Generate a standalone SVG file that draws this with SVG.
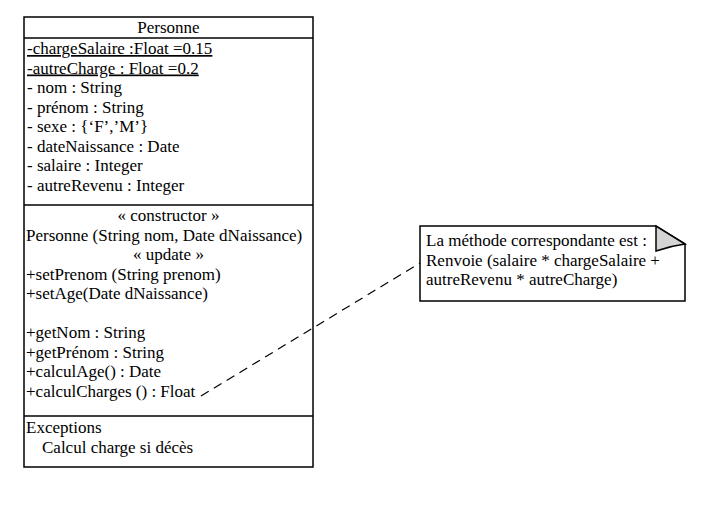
<svg xmlns="http://www.w3.org/2000/svg" width="725" height="508" viewBox="0 0 725 508">
<style>
text{font-family:"Liberation Serif","Times New Roman",serif;font-size:17px;fill:#000}
.c{text-anchor:middle}
.u{text-decoration:underline}
.box{fill:#fff;stroke:#000;stroke-width:1.5}
.ln{stroke:#000;stroke-width:1.5;fill:none}
</style>
<rect width="725" height="508" fill="#fff"/>
<g id="personne">
<rect class="box" x="24" y="17" width="289" height="450"/>
<line class="ln" x1="24" y1="38" x2="313" y2="38"/>
<line class="ln" x1="24" y1="205" x2="313" y2="205"/>
<line class="ln" x1="24" y1="416" x2="313" y2="416"/>
<text class="c" x="168.5" y="33">Personne</text>
<text class="u" x="27" y="54">-chargeSalaire :Float =0.15</text>
<text class="u" x="27" y="73.5">-autreCharge : Float =0.2</text>
<text x="27" y="93">- nom : String</text>
<text x="27" y="112.5">- prénom : String</text>
<text x="27" y="132">- sexe : {‘F’,’M’}</text>
<text x="27" y="151.5">- dateNaissance : Date</text>
<text x="27" y="171">- salaire : Integer</text>
<text x="27" y="190.5">- autreRevenu : Integer</text>
<text class="c" x="168.5" y="221">« constructor »</text>
<text x="26" y="240.5">Personne (String nom, Date dNaissance)</text>
<text class="c" x="168.5" y="260">« update »</text>
<text x="26" y="279.5">+setPrenom (String prenom)</text>
<text x="26" y="299">+setAge(Date dNaissance)</text>
<text x="26" y="338">+getNom : String</text>
<text x="26" y="357.5">+getPrénom : String</text>
<text x="26" y="377">+calculAge() : Date</text>
<text x="26" y="396.5">+calculCharges () : Float</text>
<text x="26" y="433">Exceptions</text>
<text x="42" y="452.5">Calcul charge si décès</text>
</g>
<g id="note">
<path class="box" d="M420,226 H656 L685,244 V301 H420 Z"/>
<path d="M656,226 V251 Q670,246 685,244 Z" fill="#d4d4d4" stroke="#000" stroke-width="1.5"/>
<text x="426" y="246">La méthode correspondante est :</text>
<text x="426" y="265.5">Renvoie (salaire * chargeSalaire +</text>
<text x="426" y="285">autreRevenu * autreCharge)</text>
</g>
<g id="connectors">
<line x1="201" y1="396" x2="420" y2="263" stroke="#000" stroke-width="1.2" stroke-dasharray="9,6"/>
</g>
</svg>
